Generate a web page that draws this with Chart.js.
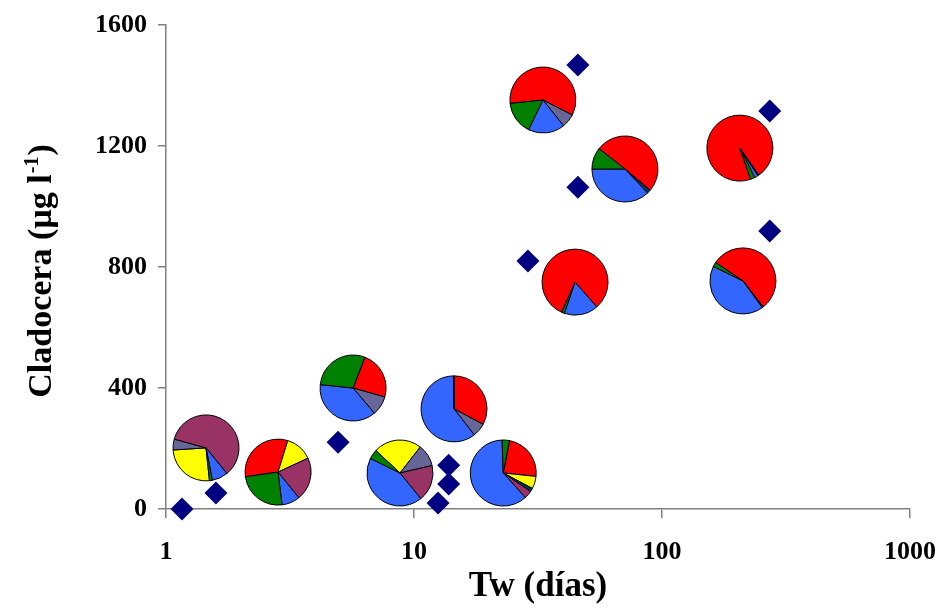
<!DOCTYPE html>
<html>
<head>
<meta charset="utf-8">
<script src="https://cdn.jsdelivr.net/npm/chart.js@4.4.1/dist/chart.umd.min.js"></script>
<style>
  html, body { margin: 0; padding: 0; background: #fff; }
  #wrap { width: 943px; height: 610px; }
</style>
</head>
<body>
<div id="wrap"><canvas id="myChart" width="943" height="610"></canvas></div>
<script>
// diamonds: Tw (days) vs Cladocera biomass
var twDays    = [1.16, 1.59, 4.94, 12.5, 13.8, 13.8, 28.8, 45.8, 45.8, 272, 272];
var cladocera = [0, 53, 221, 20, 83, 145, 820, 1468, 1064, 1316, 919];

// pie centres (same axes) and where the first slice starts (deg clockwise from 12 o'clock)
var pieTw    = [1.45, 2.83, 5.68, 8.78, 14.5, 22.9, 33.1, 70.9, 44.6, 206, 212];
var pieCla   = [202, 122, 400, 119, 331, 119, 1352, 1124, 750, 1193, 754];
var pieStart = [174, 262, 21, 313, 0, 11, 264, 308, 204, 161, 304];

// composition of each pie (%), one array per group
var shareRed    = [0,    32.0, 23.6, 0,    32.8, 23.6, 59.2, 50.6, 81.9, 95.6, 55.0];
var shareYellow = [25.6, 13.3, 0,    23.6, 0,    6.1,  0,    0,    0,    0,    0];
var shareSlate  = [5.3,  0,    9.4,  10.8, 6.7,  0,    6.7,  0,    0,    0,    0];
var shareNavy   = [0,    0,    0,    0,    0,    1.7,  0,    1.9,  0,    0.6,  0.6];
var shareMaroon = [59.7, 21.1, 0,    17.8, 0,    3.9,  0,    0,    0,    0,    0];
var shareBlue   = [7.8,  8.9,  37.8, 43.1, 60.3, 61.1, 17.9, 36.9, 16.7, 1.7,  42.2];
var shareGreen  = [1.4,  24.7, 29.2, 4.7,  0.3,  3.6,  16.2, 10.6, 1.4,  2.2,  2.2];

var xTicks = [1, 10, 100, 1000];

var pieSeries = [
  { values: shareRed,    color: '#FF0000' },
  { values: shareYellow, color: '#FFFF00' },
  { values: shareSlate,  color: '#666699' },
  { values: shareNavy,   color: '#003366' },
  { values: shareMaroon, color: '#993366' },
  { values: shareBlue,   color: '#3366FF' },
  { values: shareGreen,  color: '#008000' }
];

var tickFont = { family: 'Liberation Serif', weight: 'bold', size: 26 };
var titleFont = { family: 'Liberation Serif', weight: 'bold', size: 35 };

var piePlugin = {
  id: 'pies',
  beforeDatasetsDraw: function(chart) {
    var ctx = chart.ctx, xs = chart.scales.x, ys = chart.scales.y;
    var r = 33;
    pieTw.forEach(function(tw, i) {
      var cx = xs.getPixelForValue(tw), cy = ys.getPixelForValue(pieCla[i]);
      var total = 0;
      pieSeries.forEach(function(s) { total += s.values[i]; });
      var a = (pieStart[i] - 90) * Math.PI / 180;
      ctx.save();
      ctx.lineWidth = 1;
      ctx.strokeStyle = '#000';
      ctx.lineJoin = 'round';
      pieSeries.forEach(function(s) {
        var v = s.values[i];
        if (!v) return;
        var a2 = a + v / total * 2 * Math.PI;
        ctx.beginPath();
        ctx.moveTo(cx, cy);
        ctx.arc(cx, cy, r, a, a2);
        ctx.closePath();
        ctx.fillStyle = s.color;
        ctx.fill();
        ctx.stroke();
        a = a2;
      });
      ctx.restore();
    });
  },
  afterDraw: function(chart) {
    // y title with a real superscript
    var ctx = chart.ctx, area = chart.chartArea;
    var f = "bold 34px 'Liberation Serif'", fs = "bold 20px 'Liberation Serif'";
    var t1 = 'Cladocera (µg l', t2 = '-1', t3 = ')';
    ctx.save();
    ctx.font = f; var w1 = ctx.measureText(t1).width, w3 = ctx.measureText(t3).width;
    ctx.font = fs; var w2 = ctx.measureText(t2).width;
    var total = w1 + w2 + w3;
    ctx.translate(41, (area.top + area.bottom) / 2 + 5);
    ctx.rotate(-Math.PI / 2);
    ctx.fillStyle = '#000';
    ctx.textBaseline = 'alphabetic';
    var x0 = -total / 2, base = 10;
    ctx.font = f; ctx.fillText(t1, x0, base);
    ctx.font = fs; ctx.fillText(t2, x0 + w1 + 1, base - 13);
    ctx.font = f; ctx.fillText(t3, x0 + w1 + w2 + 2, base);
    ctx.restore();
  }
};

var ctx = document.getElementById('myChart').getContext('2d');
var myChart = new Chart(ctx, {
  type: 'scatter',
  data: {
    datasets: [{
      data: twDays.map(function(v, i) { return { x: v, y: cladocera[i] }; }),
      pointStyle: 'rectRot',
      pointRadius: 11.5,
      pointHoverRadius: 11.5,
      backgroundColor: '#000080',
      borderColor: '#000080',
      borderWidth: 0,
      clip: false
    }]
  },
  options: {
    responsive: false,
    animation: false,
    layout: { autoPadding: false, padding: { top: 25, right: 33, left: 0, bottom: 0 } },
    plugins: { legend: { display: false }, tooltip: { enabled: false } },
    scales: {
      x: {
        type: 'logarithmic',
        min: 1,
        max: 1000,
        afterBuildTicks: function(s) { s.ticks = xTicks.map(function(v) { return { value: v }; }); },
        afterFit: function(s) { s.height = 101; s.paddingLeft = 0; s.paddingRight = 0; },
        ticks: {
          callback: function(v) { return String(v); },
          font: tickFont, color: '#000', padding: 19, maxRotation: 0, autoSkip: false
        },
        grid: { drawOnChartArea: false, tickLength: 9, color: '#808080', lineWidth: 1.5 },
        border: { color: '#808080', width: 1.5 },
        title: { display: true, text: 'Tw (días)', font: titleFont, color: '#000', padding: { top: 0, bottom: 2 } }
      },
      y: {
        min: 0,
        max: 1600,
        afterFit: function(s) { s.width = 166; s.paddingTop = 0; s.paddingBottom = 0; },
        ticks: {
          stepSize: 400,
          callback: function(v) { return String(v); },
          font: tickFont, color: '#000', padding: 11
        },
        grid: { drawOnChartArea: false, tickLength: 8, color: '#808080', lineWidth: 1.5 },
        border: { color: '#808080', width: 1.5 }
      }
    }
  },
  plugins: [piePlugin]
});
</script>
</body>
</html>
